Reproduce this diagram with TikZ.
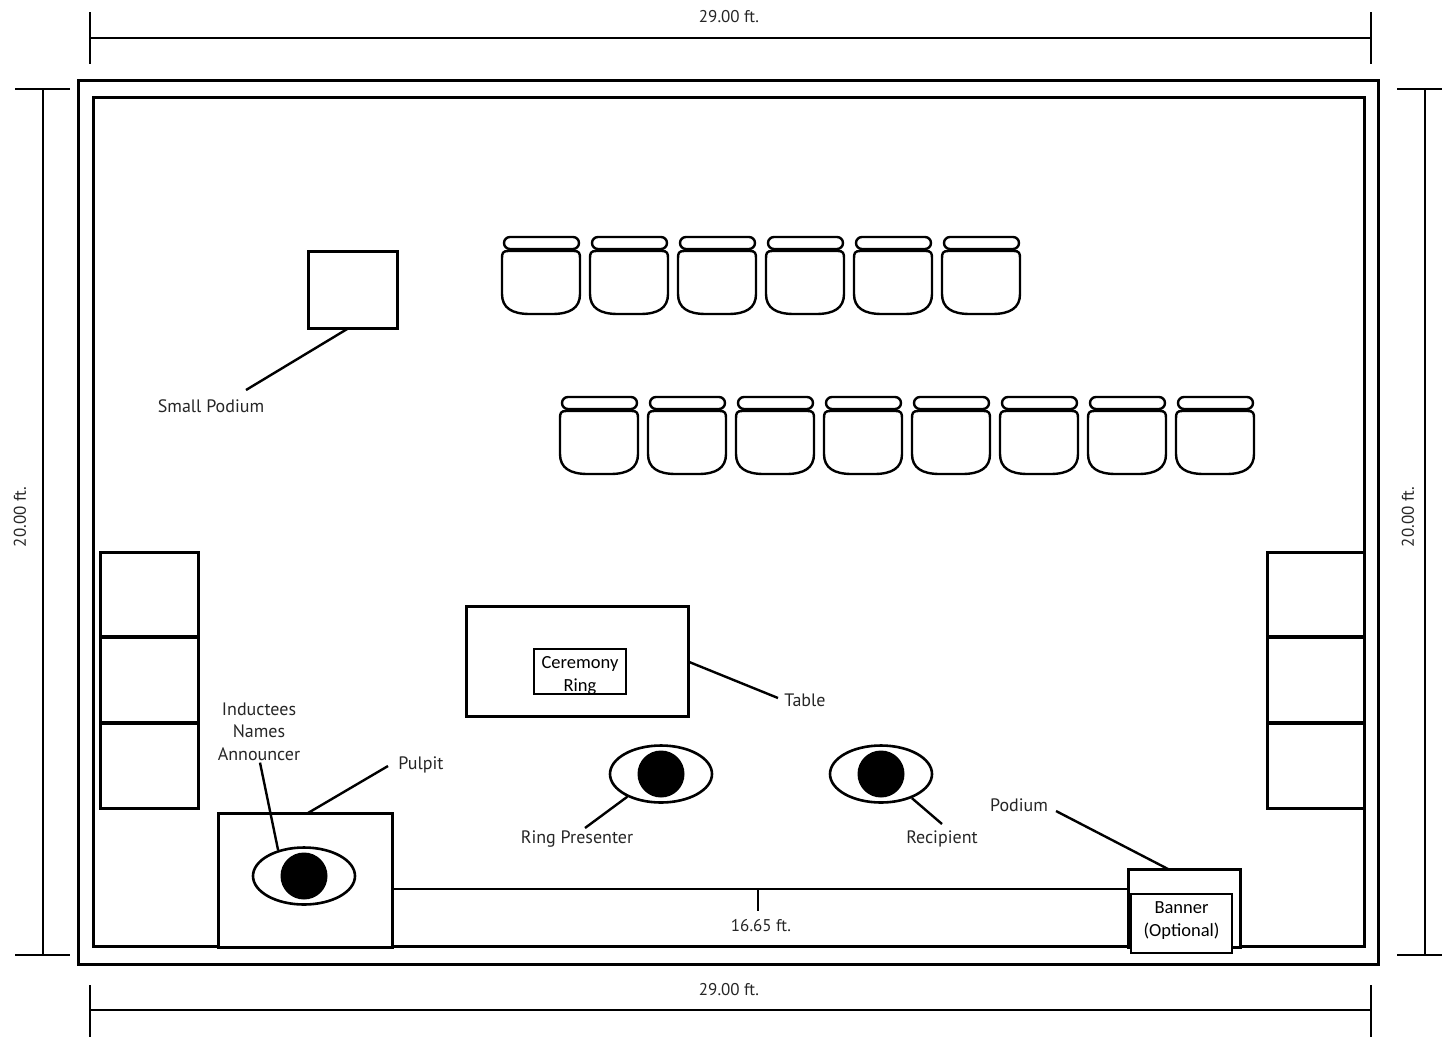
\documentclass[tikz,border=0pt]{standalone}
\usepackage{fontspec}
\setmainfont{PT Sans}
\newfontfamily\boxfont{Carlito}
\usetikzlibrary{calc}
\usetikzlibrary{positioning}
\usetikzlibrary{shapes.geometric}
\tikzset{
	chair/.pic={
		\draw[line width=2.4pt, rounded corners=6pt] (2,-15) rectangle (77,-3);
		\draw[line width=2.4pt] (0,6) .. controls (0,1) and (1,-1) .. (6,-1) -- (72,-1) .. controls (77,-1) and (78,1) .. (78,6)
			-- (78,42) .. controls (78,56) and (68,62) .. (50,62) -- (28,62) .. controls (10,62) and (0,56) .. (0,42) -- cycle;
	},
}

\begin{document}
\begin{tikzpicture}[x=1pt, y=-1pt, font=\fontsize{18}{22.5}\selectfont, line cap=butt]
	\tikzstyle{wall}=[draw=black, line width=3pt, fill=none]
	\tikzstyle{block}=[draw=black, rectangle, line width=3pt, fill=white, inner sep=0pt, outer sep=0pt]
	\tikzstyle{stack}=[block, fill=none]
	\tikzstyle{dim}=[draw=black, line width=2.6pt]
	\tikzstyle{leader}=[draw=black, line width=2.4pt]
	\tikzstyle{label}=[text=black!85, align=center, inner sep=1pt]
	\tikzstyle{dimlabel}=[label, font=\fontsize{17}{22}\selectfont]
	\tikzstyle{tag}=[draw=black, rectangle, line width=1.6pt, fill=white, inner sep=0pt]
	\tikzstyle{tagtext}=[font=\boxfont\fontsize{18.5}{23}\selectfont, align=center, inner sep=0pt]
	\tikzstyle{eye}=[draw=black, ellipse, line width=2.6pt, minimum width=102pt, minimum height=57pt, inner sep=0pt]
	\tikzstyle{pupil}=[circle, fill=black, minimum size=47pt, inner sep=0pt]

	\useasboundingbox (0,0) rectangle (1442,1037);

	% room
	\draw[wall] (78,80) rectangle (1378,964);
	\draw[wall] (93,97) rectangle (1364,946);

	% outside dimensions
	\coordinate (topl) at (90,38);
	\coordinate (topr) at (1371,38);
	\coordinate (botl) at (90,1010);
	\coordinate (botr) at (1371,1010);
	\coordinate (lefta) at (43,89);
	\coordinate (leftb) at (43,955);
	\coordinate (righta) at (1425,89);
	\coordinate (rightb) at (1425,955);
	\draw[dim] (topl) -- (topr);
	\draw[dim] ($(topl)+(0,-26)$) -- ($(topl)+(0,26)$);
	\draw[dim] ($(topr)+(0,-26)$) -- ($(topr)+(0,26)$);
	\draw[dim] (botl) -- (botr);
	\draw[dim] ($(botl)+(0,-25)$) -- ($(botl)+(0,27)$);
	\draw[dim] ($(botr)+(0,-25)$) -- ($(botr)+(0,27)$);
	\draw[dim] (lefta) -- (leftb);
	\draw[dim] ($(lefta)+(-28,0)$) -- ($(lefta)+(27,0)$);
	\draw[dim] ($(leftb)+(-28,0)$) -- ($(leftb)+(27,0)$);
	\draw[dim] (righta) -- (rightb);
	\draw[dim] ($(righta)+(-28,0)$) -- ($(righta)+(17,0)$);
	\draw[dim] ($(rightb)+(-28,0)$) -- ($(rightb)+(17,0)$);
	\node[dimlabel] (toplen) at (729,17) {29.00 ft.};
	\node[dimlabel] (botlen) at (729,990) {29.00 ft.};
	\node[dimlabel, rotate=90] (leftlen) at (20,517) {20.00 ft.};
	\node[dimlabel, rotate=90] (rightlen) at (1408,517) {20.00 ft.};

	% chairs
	\foreach \i in {0,...,5}
		\pic at ($(502,252)+(\i*88,0)$) {chair};
	\foreach \i in {0,...,7}
		\pic at ($(560,412)+(\i*88,0)$) {chair};

	% side boxes
	\node[stack, minimum width=98pt, minimum height=85.5pt] (la) at (149,594.75) {};
	\node[stack, minimum width=98pt, minimum height=87.5pt, below=-1.5pt of la] (lb) {};
	\node[stack, minimum width=98pt, minimum height=86pt, below=-1.5pt of lb] (lc) {};
	\node[stack, minimum width=97pt, minimum height=85.5pt] (ra) at (1316,594.75) {};
	\node[stack, minimum width=97pt, minimum height=87.5pt, below=-1.5pt of ra] (rb) {};
	\node[stack, minimum width=97pt, minimum height=86pt, below=-1.5pt of rb] (rc) {};

	% stage
	\node[block, minimum width=89pt, minimum height=77pt] (smallpodium) at (353,290) {};
	\node[block, minimum width=222pt, minimum height=110pt] (table) at (577,661.5) {};
	\node[tag, minimum width=92pt, minimum height=45pt] (ringbox) at (580,671.5) {};
	\node[tagtext] (ring) at (580,675.5) {Ceremony\\Ring};
	\node[block, minimum width=174pt, minimum height=134pt] (pulpit) at (305,880) {};
	\node[block, minimum width=112pt, minimum height=78pt] (podium) at (1184,908) {};
	\node[tag, minimum width=101pt, minimum height=59pt] (banner) at (1181.5,923.5) {};
	\node[tagtext] (bannertext) at (1181.5,920.5) {Banner\\(Optional)};

	% people
	\node[eye] (announcer) at (304,876) {};
	\node[pupil] at (announcer) {};
	\node[eye] (presenter) at (661,774) {};
	\node[pupil] at (presenter) {};
	\node[eye] (recipient) at (881,774) {};
	\node[pupil] at (recipient) {};

	% 16.65 ft. line
	\draw[leader] (pulpit.east |- 0,889) -- (podium.west |- 0,889);
	\coordinate (midtick) at (758,889);
	\draw[leader] (midtick) -- ($(midtick)+(0,22)$);
	\node[dimlabel] (midlen) at (761,926) {16.65 ft.};

	% labels
	\node[label] (smalllabel) at (211,406) {Small Podium};
	\node[label] (tablelabel) at (805,700) {Table};
	\node[label] (announcerlabel) at (259,731.5) {Inductees\\Names\\Announcer};
	\node[label] (pulpitlabel) at (421,765) {Pulpit};
	\node[label] (presenterlabel) at (577,839) {Ring Presenter};
	\node[label] (recipientlabel) at (942,839) {Recipient};
	\node[label] (podiumlabel) at (1019,805) {Podium};

	% leaders
	\coordinate (smalltip) at (246,390);
	\coordinate (podiumtip) at (1056,811);
	\coordinate (podiumfoot) at (1168,869);
	\draw[leader] (smallpodium.south) ++(-5,0) -- (smalltip);
	\draw[leader] (table.east) -- (778,698);
	\draw[leader] (announcerlabel.south) ++(1,1) -- (announcer.135);
	\draw[leader] (pulpit.north) ++(3,0) -- (388,766);
	\draw[leader] (presenter.214) -- (585,828);
	\draw[leader] (recipient.322) -- (942,824);
	\draw[leader] (podiumtip) -- (podiumfoot);
\end{tikzpicture}
\end{document}
